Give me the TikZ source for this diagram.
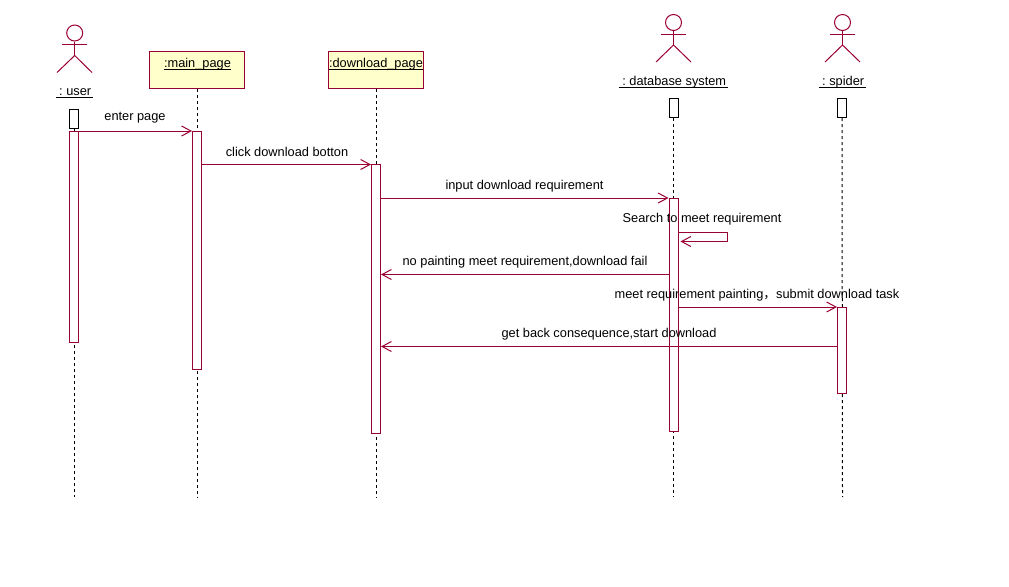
\documentclass[tikz,border=0pt]{standalone}
\usepackage{fontspec}
\setmainfont{Liberation Sans}
\newfontfamily\cjkfont{Noto Sans CJK SC}
\usetikzlibrary{arrows.meta}
\definecolor{umlred}{HTML}{990033}
\definecolor{umlyellow}{HTML}{FFFFCC}

\begin{document}
\begin{tikzpicture}[
  x=0.75pt, y=-0.75pt,
  objbox/.style={rectangle, draw=umlred, line width=0.75pt, fill=umlyellow, minimum width=71.25pt, minimum height=27.75pt, inner sep=0pt},
  bar/.style={rectangle, draw=umlred, line width=0.75pt, fill=white, minimum width=6.75pt, inner sep=0pt},
  stub/.style={rectangle, draw=black, line width=0.75pt, fill=white, minimum width=6.75pt, minimum height=14pt, inner sep=0pt},
  head/.style={circle, draw=umlred, line width=0.75pt, minimum size=12pt, inner sep=0pt},
  limb/.style={draw=umlred, line width=0.75pt},
  lifeline/.style={black, line width=0.75pt, dash pattern=on 2.25pt off 2.25pt},
  msg/.style={draw=umlred, line width=0.75pt, -{Straight Barb[length=7pt,width=7.5pt]}},
  msglabel/.style={font=\fontsize{9.6}{11}\selectfont, inner sep=0pt},
  objname/.style={font=\fontsize{9.6}{11}\selectfont, inner sep=0pt, anchor=base}
]
\useasboundingbox (0,0) rectangle (1009,586);

% Object headers
\node[objbox] (mainbox) at (196.8,69.8) {};
\node[objname] (mainname) at (197.5,67) {\underline{\smash{:main\_page}}};
\node[objbox] (downbox) at (376,69.8) {};
\node[objname] (downname) at (376,67) {\underline{\smash{:download\_page}}};

% Actors
\node[head] (userhead) at (74.7,33) {};
\draw[limb] (userhead.south) -- ++(0,14) coordinate (userhip);
\draw[limb] (62,44) -- (87,44);
\draw[limb] (57,72.5) -- (userhip) -- (92,72.5);
\node[objname] (username) at (74.5,95) {\underline{\smash{\ :\ user\,}}};

\node[head] (dbhead) at (673.5,22.5) {};
\draw[limb] (dbhead.south) -- ++(0,14) coordinate (dbhip);
\draw[limb] (661,34) -- (686,34);
\draw[limb] (656,62) -- (dbhip) -- (691,62);
\node[objname] (dbname) at (673.5,85) {\underline{\smash{\ :\ database system\,}}};

\node[head] (spiderhead) at (842.5,22.5) {};
\draw[limb] (spiderhead.south) -- ++(0,14) coordinate (spiderhip);
\draw[limb] (830,34) -- (855,34);
\draw[limb] (825,62) -- (spiderhip) -- (860,62);
\node[objname] (spidername) at (842.5,85) {\underline{\smash{\ :\ spider\,}}};

% Lifelines
\coordinate (userend) at (74,497);
\coordinate (mainend) at (197.5,497);
\coordinate (downend) at (376,497);
\coordinate (dbend) at (673.5,497);
\coordinate (spiderend) at (842.5,497);
\node[stub] (userstub) at (74,118.7) {};
\node[stub] (dbstub) at (673.5,108.3) {};
\node[stub] (spiderstub) at (842,108.3) {};
\draw[lifeline] (userstub.south) -- (userend);
\draw[lifeline] (mainbox.south -| mainend) -- (mainend);
\draw[lifeline] (downbox.south) -- (downend);
\draw[lifeline] (dbstub.south) -- (dbend);
\draw[lifeline] (spiderstub.south) -- (spiderend);

% Activation bars
\node[bar, minimum height=158.25pt] (userbar) at (74,236.5) {};
\node[bar, minimum height=178.5pt] (mainbar) at (197,250) {};
\node[bar, minimum height=201.75pt] (downbar) at (376,298.5) {};
\node[bar, minimum height=174.75pt] (dbbar) at (673.5,314.5) {};
\node[bar, minimum height=64.5pt] (spiderbar) at (842,350) {};

% Message levels
\coordinate (enter) at (0,131);
\coordinate (click) at (0,164.5);
\coordinate (input) at (0,198);
\coordinate (searchtop) at (727,232);
\coordinate (searchlow) at (727,241.5);
\coordinate (nomeet) at (0,274.5);
\coordinate (meet) at (0,307);
\coordinate (back) at (0,346.5);

% Messages
\draw[msg] (userbar.east |- enter) -- (mainbar.west |- enter);
\draw[msg] (mainbar.east |- click) -- (downbar.west |- click);
\draw[msg] (downbar.east |- input) -- (dbbar.west |- input);
\draw[msg] (dbbar.east |- searchtop) -- (searchtop) -- (searchlow) -- ([xshift=1.5pt]dbbar.east |- searchlow);
\draw[msg] (dbbar.west |- nomeet) -- (downbar.east |- nomeet);
\draw[msg] (dbbar.east |- meet) -- (spiderbar.west |- meet);
\draw[msg] (spiderbar.west |- back) -- (downbar.east |- back);

% Message labels
\node[msglabel] (enterlabel) at (135,118) {enter page};
\node[msglabel] (clicklabel) at (287,152) {click download botton};
\node[msglabel] (inputlabel) at (524.5,186) {input download requirement};
\node[msglabel] (searchlabel) at (702,219) {Search to meet requirement};
\node[msglabel] (nomeetlabel) at (525,262) {no painting meet requirement,download fail};
\node[msglabel] (meetlabel) at (757,295) {meet requirement painting{\cjkfont ，}submit download task};
\node[msglabel] (backlabel) at (609,334) {get back consequence,start download};

\end{tikzpicture}
\end{document}
